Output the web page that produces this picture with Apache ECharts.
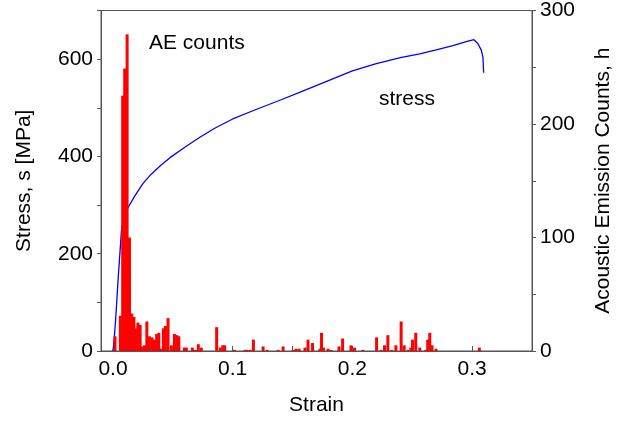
<!DOCTYPE html>
<html>
<head>
<meta charset="utf-8">
<script src="https://cdn.jsdelivr.net/npm/echarts@6/dist/echarts.min.js"></script>
<style>
  html, body { margin: 0; padding: 0; background: #fff; }
  #chart { width: 623px; height: 421px; }
</style>
</head>
<body>
<div id="chart"></div>
<script>
// stress-strain curve
const stressStrain = [0, 0.001, 0.0021, 0.0045, 0.0071, 0.0095, 0.0129, 0.018, 0.025, 0.0313, 0.04, 0.0479, 0.06, 0.0729, 0.085, 0.1, 0.12, 0.14, 0.16, 0.18, 0.2, 0.22, 0.24, 0.2563, 0.27, 0.284, 0.295, 0.3015, 0.3048, 0.3077, 0.309, 0.3096]
const stressValues = [0, 25, 60, 155, 248, 280, 296, 318, 344, 362, 382, 398, 419, 440, 458, 477, 497, 516, 536, 556, 576, 591, 603, 611, 619, 628, 636, 640, 632, 618, 604, 572]

// acoustic emission counts
const aeStrain = [0.0017, 0.0062, 0.0081, 0.0098, 0.0118, 0.0138, 0.0157, 0.0175, 0.0192, 0.0208, 0.0227, 0.0246, 0.0263, 0.0283, 0.0304, 0.0325, 0.0346, 0.0365, 0.0383, 0.0404, 0.0421, 0.0438, 0.046, 0.0488, 0.0513, 0.0533, 0.055, 0.0596, 0.0613, 0.0663, 0.0688, 0.0713, 0.0738, 0.0866, 0.0896, 0.0917, 0.0933, 0.1015, 0.1102, 0.1121, 0.1146, 0.1173, 0.1254, 0.1288, 0.1379, 0.1421, 0.1504, 0.1529, 0.1554, 0.1604, 0.1629, 0.1667, 0.1729, 0.1742, 0.1758, 0.1796, 0.1821, 0.1888, 0.1918, 0.1988, 0.2018, 0.2088, 0.2202, 0.2238, 0.2268, 0.2296, 0.2329, 0.2363, 0.2407, 0.2432, 0.2465, 0.2488, 0.2502, 0.2529, 0.2563, 0.2613, 0.2629, 0.2646, 0.2665, 0.2698, 0.306]
const aeCounts = [13, 31, 225, 249, 279, 100, 33, 30, 20, 25, 23, 4, 5, 26, 13, 12, 10, 15, 16, 2, 20, 22, 29, 5, 15, 14, 13, 3, 3, 3, 1, 6, 3, 21, 3, 5, 5, 1, 1, 1, 1, 10, 4, 1, 1, 4, 1, 2, 2, 3, 10, 7, 2, 16, 3, 2, 1, 4, 11, 5, 3, 1, 12, 1, 5, 14, 1, 5, 26, 5, 1, 3, 10, 16, 3, 1, 10, 16, 5, 2, 3]

const xLabels = [0, 0.1, 0.2, 0.3]
const xTicks = [0, 0.05, 0.1, 0.15, 0.2, 0.25, 0.3]

const font = 'Liberation Sans'
const axisColor = '#555'

const chart = echarts.init(document.getElementById('chart'))
chart.setOption({
  animation: false,
  grid: { left: 101, right: 91, top: 10, bottom: 70, show: true, borderColor: axisColor, borderWidth: 1 },
  xAxis: {
    type: 'value', min: -0.01, max: 0.35,
    name: 'Strain', nameLocation: 'middle', nameGap: 44,
    nameTextStyle: { fontFamily: font, fontSize: 21, color: '#000' },
    axisLine: { onZero: false, lineStyle: { color: axisColor } },
    axisTick: { inside: true, length: 5, customValues: xTicks, lineStyle: { color: axisColor } },
    axisLabel: { customValues: xLabels, formatter: v => v.toFixed(1), fontFamily: font, fontSize: 21, color: '#000', margin: 8 },
    splitLine: { show: false }
  },
  yAxis: [
    {
      type: 'value', min: 0, max: 700, interval: 100,
      name: 'Stress, s [MPa]', nameLocation: 'middle', nameGap: 66, nameRotate: 90,
      nameTextStyle: { fontFamily: font, fontSize: 21, color: '#000' },
      axisLine: { show: true, onZero: false, lineStyle: { color: axisColor } },
      axisTick: { show: true, length: 4, lineStyle: { color: axisColor } },
      axisLabel: { formatter: v => (v % 200 === 0 && v < 700 ? String(v) : ''), fontFamily: font, fontSize: 21, color: '#000', margin: 8 },
      splitLine: { show: false }
    },
    {
      type: 'value', min: 0, max: 300, interval: 50, position: 'right',
      name: 'Acoustic Emission Counts, h', nameLocation: 'middle', nameGap: 61, nameRotate: 90,
      nameTextStyle: { fontFamily: font, fontSize: 21, color: '#000' },
      axisLine: { show: true, onZero: false, lineStyle: { color: axisColor } },
      axisTick: { show: true, length: 4, lineStyle: { color: axisColor } },
      axisLabel: { formatter: v => (v % 100 === 0 ? String(v) : ''), fontFamily: font, fontSize: 21, color: '#000', margin: 8 },
      splitLine: { show: false }
    }
  ],
  graphic: [
    { type: 'text', left: 149, top: 33, style: { text: 'AE counts', font: '21px Liberation Sans', fill: '#000' } },
    { type: 'text', left: 379, top: 89, style: { text: 'stress', font: '21px Liberation Sans', fill: '#000' } }
  ],
  series: [
    {
      type: 'line', yAxisIndex: 0, showSymbol: false, z: 2,
      lineStyle: { color: '#0000ff', width: 1.3 },
      data: stressStrain.map((s, i) => [s, stressValues[i]])
    },
    {
      type: 'bar', yAxisIndex: 1, barWidth: 3, z: 3,
      itemStyle: { color: '#ff0000' },
      data: aeStrain.map((s, i) => [s, aeCounts[i]])
    }
  ]
})
</script>
</body>
</html>
